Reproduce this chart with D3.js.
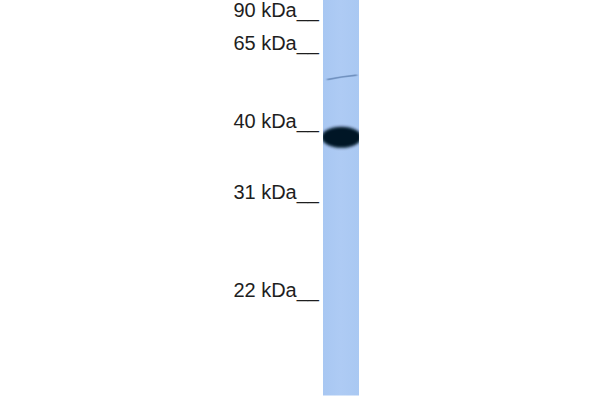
<!DOCTYPE html>
<html>
<head>
<meta charset="utf-8">
<script src="https://cdn.jsdelivr.net/npm/d3@7"></script>
<style>
  html, body { margin: 0; padding: 0; background: #ffffff; }
  svg { display: block; }
</style>
</head>
<body>
<svg id="chart" width="600" height="400"></svg>
<script>
// Molecular weight markers (kDa) and their relative migration (fraction of lane length)
const markerLabels = ["90 kDa", "65 kDa", "40 kDa", "31 kDa", "22 kDa"];
const markerKDa = [90, 65, 40, 31, 22];
const markerRf = [0.042, 0.127, 0.324, 0.504, 0.752];

// Detected bands: relative migration and intensity (0..1)
const bandNames = ["faint", "main"];
const bandRf = [0.195, 0.347];
const bandIntensity = [0.35, 1.0];

const svg = d3.select("#chart");
const lane = { x0: 323, x1: 359, top: 0, bottom: 395.5 };

const y = d3.scaleLinear().domain([0, 1]).range([lane.top, lane.bottom]);
const x = d3.scaleBand().domain(["lane1"]).range([lane.x0, lane.x1]).padding(0);

const defs = svg.append("defs");
const blurMain = defs.append("filter").attr("id", "blurMain")
  .attr("x", "-30%").attr("y", "-60%").attr("width", "160%").attr("height", "220%");
blurMain.append("feGaussianBlur").attr("stdDeviation", "1.6 1.8");
const blurFaint = defs.append("filter").attr("id", "blurFaint")
  .attr("x", "-30%").attr("y", "-300%").attr("width", "160%").attr("height", "700%");
blurFaint.append("feGaussianBlur").attr("stdDeviation", "1.0 0.7");
const clip = defs.append("clipPath").attr("id", "laneClip");
clip.append("rect").attr("x", x("lane1")).attr("y", lane.top)
  .attr("width", x.bandwidth()).attr("height", lane.bottom - lane.top);

const laneGrad = defs.append("linearGradient").attr("id", "laneGrad")
  .attr("x1", "0").attr("x2", "1").attr("y1", "0").attr("y2", "0");
laneGrad.append("stop").attr("offset", "0").attr("stop-color", "#a8c7f2");
laneGrad.append("stop").attr("offset", "0.5").attr("stop-color", "#aecbf4");
laneGrad.append("stop").attr("offset", "1").attr("stop-color", "#a9c8f2");

// Lane
svg.append("rect")
  .attr("x", x("lane1")).attr("y", lane.top)
  .attr("width", x.bandwidth()).attr("height", lane.bottom - lane.top)
  .attr("fill", "url(#laneGrad)");

const g = svg.append("g").attr("clip-path", "url(#laneClip)");
const bands = bandRf.map((r, i) => ({ name: bandNames[i], rf: r, k: bandIntensity[i] }));

g.selectAll("ellipse.band").data(bands.filter(d => d.name === "main")).join("ellipse")
  .attr("class", "band")
  .attr("cx", x("lane1") + x.bandwidth() / 2 + 0.5)
  .attr("cy", d => y(d.rf))
  .attr("rx", x.bandwidth() / 2 + 2)
  .attr("ry", 10.5)
  .attr("fill", "#061226")
  .attr("filter", "url(#blurMain)");

g.selectAll("path.faint").data(bands.filter(d => d.name === "faint")).join("path")
  .attr("class", "faint")
  .attr("d", d => {
    const cy = y(d.rf);
    return `M${x("lane1") + 4},${cy + 2.5} Q${x("lane1") + x.bandwidth() / 2},${cy - 0.5} ${x("lane1") + x.bandwidth() - 2},${cy - 2}`;
  })
  .attr("stroke", "#5d7fae")
  .attr("stroke-width", 2)
  .attr("fill", "none")
  .attr("opacity", d => d.k + 0.4)
  .attr("filter", "url(#blurFaint)");

// Marker labels
svg.selectAll("text.marker").data(markerLabels).join("text")
  .attr("class", "marker")
  .attr("x", 319)
  .attr("y", (d, i) => y(markerRf[i]))
  .attr("text-anchor", "end")
  .attr("font-family", "'Liberation Sans', Arial, sans-serif")
  .attr("font-size", 20)
  .attr("fill", "#1e1e1e")
  .text(d => d + "__");
</script>
</body>
</html>
